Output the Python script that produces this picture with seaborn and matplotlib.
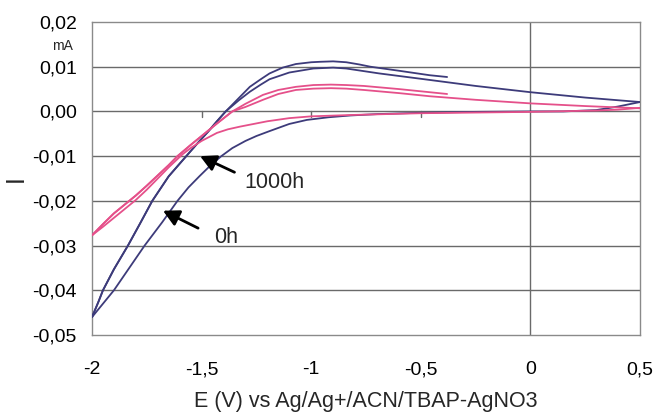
import matplotlib
matplotlib.use("Agg")
import matplotlib.pyplot as plt
import seaborn as sns
import pandas as pd

# ---- data ----
# 0h, cathodic (lower) branch: 0.5 V -> -2 V
E0_lower = [0.5, 0.45, 0.4, 0.3, 0.15, 0.0, -0.25, -0.5, -0.7, -0.82, -0.92, -1.02, -1.1, -1.19, -1.25,
            -1.3, -1.36, -1.41, -1.46, -1.51, -1.56, -1.61, -1.68, -1.76, -1.83, -1.9, -1.95, -2.0]
I0_lower = [0.0021, 0.0016, 0.0011, 0.0003, 0.0, 0.0, -0.0001, -0.0003, -0.0006, -0.0009, -0.0013, -0.0019,
            -0.0028, -0.0044, -0.0055, -0.0066, -0.0082, -0.0100, -0.0121, -0.0145, -0.0170, -0.0200,
            -0.0248, -0.0300, -0.0350, -0.0400, -0.0430, -0.0460]
# 0h, anodic branch common part: -2 V -> -1.39 V
E0_up = [-2.0, -1.97, -1.95, -1.9, -1.836, -1.78, -1.725, -1.65, -1.57, -1.52, -1.47, -1.43, -1.39]
I0_up = [-0.0460, -0.0425, -0.0400, -0.0353, -0.0300, -0.0250, -0.0200, -0.0145, -0.0100, -0.0072,
         -0.0045, -0.0022, 0.0]
# 0h, anodic branch of the cycle that stops at -0.38 V (higher peak)
E0_outer = [-1.39, -1.33, -1.28, -1.23, -1.19, -1.13, -1.07, -1.0, -0.96, -0.9, -0.84, -0.78, -0.73,
            -0.6, -0.46, -0.38]
I0_outer = [0.0, 0.0030, 0.0055, 0.0072, 0.0085, 0.0098, 0.0106, 0.0110, 0.0111, 0.0112, 0.0110, 0.0105,
            0.0100, 0.0091, 0.0081, 0.0077]
# 0h, anodic branch of the cycle that goes on to 0.5 V (lower peak)
E0_inner = [-1.39, -1.33, -1.28, -1.23, -1.19, -1.1, -0.99, -0.9, -0.84, -0.69, -0.5, -0.25, 0.0, 0.25, 0.5]
I0_inner = [0.0, 0.0025, 0.0044, 0.0060, 0.0072, 0.0087, 0.0096, 0.0098, 0.0096, 0.0085, 0.0073, 0.0057,
            0.0043, 0.0031, 0.0021]

# 1000h
E1_lower = [0.5, 0.4, 0.3, 0.0, -0.5, -0.82, -1.0, -1.1, -1.2, -1.325, -1.38, -1.43, -1.5, -1.55, -1.585,
            -1.65, -1.7, -1.75, -1.8, -1.85, -1.9, -1.95, -2.0]
I1_lower = [0.0008, 0.0004, 0.0002, -0.0001, -0.0004, -0.0008, -0.0011, -0.0015, -0.0022, -0.0034,
            -0.0040, -0.0048, -0.0066, -0.0082, -0.0095, -0.0125, -0.0150, -0.0175, -0.0198, -0.0218,
            -0.0238, -0.0258, -0.0277]
E1_up = [-2.0, -1.95, -1.9, -1.85, -1.8, -1.75, -1.7, -1.65, -1.61, -1.55, -1.5, -1.43, -1.36]
I1_up = [-0.0277, -0.0252, -0.0228, -0.0208, -0.0188, -0.0166, -0.0143, -0.0120, -0.0100, -0.0075,
         -0.0055, -0.0027, 0.0]
E1_outer = [-1.36, -1.3, -1.22, -1.15, -1.07, -0.99, -0.91, -0.84, -0.76, -0.6, -0.46, -0.38]
I1_outer = [0.0, 0.0017, 0.0037, 0.0048, 0.0055, 0.0059, 0.0060, 0.0059, 0.0057, 0.0050, 0.0043, 0.0039]
E1_inner = [-1.36, -1.3, -1.22, -1.15, -1.07, -0.99, -0.91, -0.84, -0.76, -0.6, -0.46, -0.25, 0.0, 0.25, 0.5]
I1_inner = [0.0, 0.0010, 0.0026, 0.0039, 0.0048, 0.0051, 0.0052, 0.0051, 0.0048, 0.0041, 0.0034, 0.0026,
            0.0018, 0.0012, 0.0007]

series_names = ["0h", "1000h"]
series_colors = ["#3d3b7a", "#e5508a"]

x_ticks = [-2, -1.5, -1, -0.5, 0, 0.5]
x_ticklabels = ["-2", "-1,5", "-1", "-0,5", "0", "0,5"]
y_ticks = [0.02, 0.01, 0.0, -0.01, -0.02, -0.03, -0.04, -0.05]
y_ticklabels = ["0,02", "0,01", "0,00", "-0,01", "-0,02", "-0,03", "-0,04", "-0,05"]

# ---- build table ----
rows = []
segs = {
    "0h": [(E0_lower, I0_lower), (E0_up + E0_inner[1:], I0_up + I0_inner[1:]),
           (E0_up + E0_outer[1:], I0_up + I0_outer[1:])],
    "1000h": [(E1_lower, I1_lower), (E1_up + E1_inner[1:], I1_up + I1_inner[1:]),
              (E1_up + E1_outer[1:], I1_up + I1_outer[1:])],
}
for name, lst in segs.items():
    for k, (ee, ii) in enumerate(lst):
        for e, i in zip(ee, ii):
            rows.append({"E": e, "I": i, "series": name, "seg": f"{name}-{k}"})
df = pd.DataFrame(rows)

sns.set_style("white")
plt.rcParams["font.family"] = ["Liberation Sans", "DejaVu Sans"]

fig = plt.figure(figsize=(6.56, 4.12), dpi=100)
ax = fig.add_axes([92 / 656, 1 - 335 / 412, (640 - 92) / 656, (335 - 22) / 412])

# gridlines and zero line
for yv in y_ticks[1:-1]:
    ax.axhline(yv, color="#6a6a6a", lw=1.0, zorder=1)
ax.axvline(0, color="#6a6a6a", lw=1.0, zorder=1)

sns.lineplot(data=df, x="E", y="I", hue="series", units="seg", estimator=None,
             sort=False, palette=dict(zip(series_names, series_colors)),
             lw=1.3, legend=False, ax=ax, zorder=3)

# small tick marks on the zero line (Excel category axis)
for xv in [-1.5, -1, -0.5]:
    ax.plot([xv, xv], [0.0002, -0.0012], color="#6a6a6a", lw=1.0, zorder=1)

ax.set_xlim(-2, 0.5)
ax.set_ylim(-0.05, 0.02)
ax.set_xticks(x_ticks)
ax.set_xticklabels(x_ticklabels)
ax.set_yticks(y_ticks)
ax.set_yticklabels(y_ticklabels)
ax.tick_params(axis="both", length=0, labelsize=14, colors="black")
ax.tick_params(axis="x", pad=19)
ax.tick_params(axis="y", pad=11)
for sp in ax.spines.values():
    sp.set_color("#8a8a8a")
    sp.set_linewidth(1.0)

ax.set_xlabel("E (V) vs Ag/Ag+/ACN/TBAP-AgNO3", fontsize=15.5, labelpad=9)
ax.set_ylabel("")
fig.text(16 / 656, 1 - 178.5 / 412, "I", fontsize=18, rotation=90, ha="center", va="center")
fig.text(62 / 656, 1 - 46 / 412, "mA", fontsize=10, ha="center", va="center")

arrow = dict(arrowstyle="-|>,head_length=0.95,head_width=0.5", color="black", lw=2.0,
             shrinkA=0, shrinkB=0)
ax.annotate("", xy=(-1.507, -0.0100), xytext=(-1.350, -0.0136), arrowprops=arrow, zorder=5)
ax.text(-1.305, -0.0160, "1000h", fontsize=15.5, va="center", ha="left")
ax.annotate("", xy=(-1.676, -0.0222), xytext=(-1.516, -0.0261), arrowprops=arrow, zorder=5)
ax.text(-1.442, -0.0281, "0h", fontsize=15.5, va="center", ha="left")

fig.savefig("out.png", dpi=100)
